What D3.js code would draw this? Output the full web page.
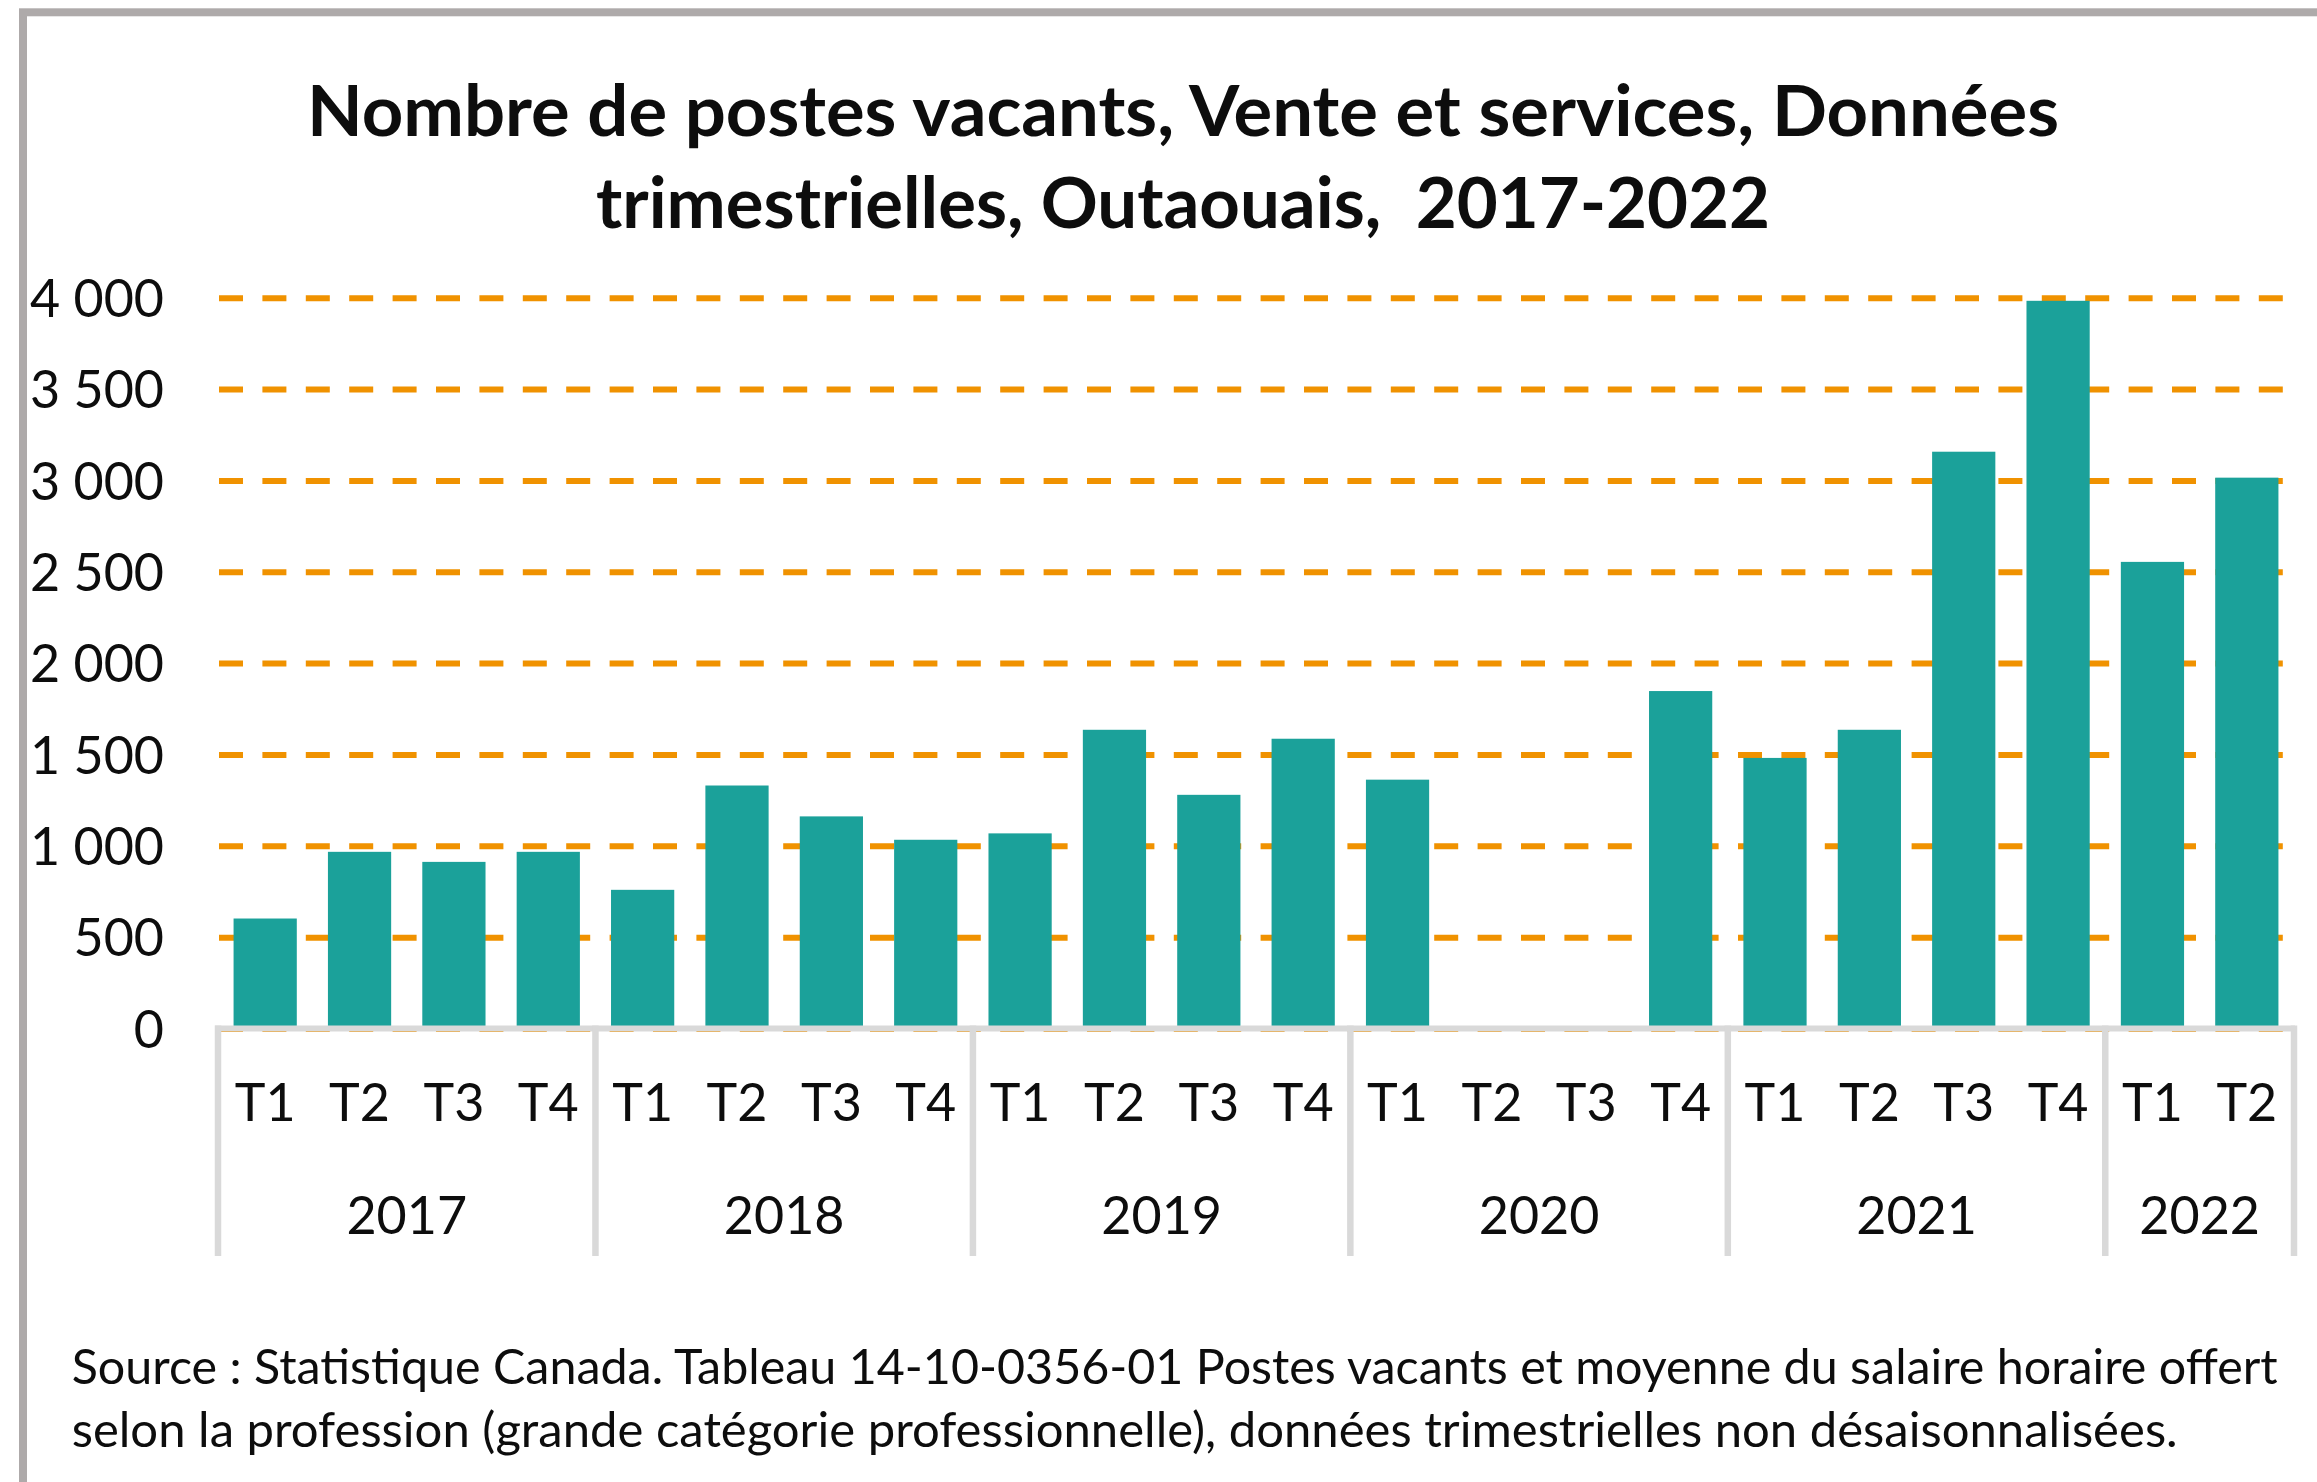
<!DOCTYPE html>
<html>
<head>
<meta charset="utf-8">
<script src="https://cdn.jsdelivr.net/npm/d3@7"></script>
<style>
    body { margin: 0; background: #fff; }
    svg { display: block; }
    text { font-family: Lato, "Noto Sans", sans-serif; fill: #0d0d0d; }
</style>
</head>
<body>
<svg id="chart" width="2317" height="1482"></svg>
<script>
// values (vacancies per quarter, Outaouais)
const years = ["2017", "2018", "2019", "2020", "2021", "2022"]
const quarters = ["T1", "T2", "T3", "T4"]
const values2017 = [602, 967, 912, 967]
const values2018 = [759, 1330, 1161, 1033]
const values2019 = [1068, 1635, 1279, 1586]
const values2020 = [1362, null, null, 1847]
const values2021 = [1481, 1635, 3157, 3983]
const values2022 = [2554, 3015]
const yTicks = [0, 500, 1000, 1500, 2000, 2500, 3000, 3500, 4000]
const titleLines = [
    "Nombre de postes vacants, Vente et services, Données",
    "trimestrielles, Outaouais,  2017-2022"
]
const sourceLines = [
    "Source : Statistique Canada. Tableau 14-10-0356-01 Postes vacants et moyenne du salaire horaire offert",
    "selon la profession (grande catégorie professionnelle), données trimestrielles non désaisonnalisées."
]

const colors = {
    bar: "#1ba19a",
    grid: "#f09200",
    axis: "#d9d9d9",
    border: "#aeaaaa"
}


function buildCategories() {
    let series = [values2017, values2018, values2019, values2020, values2021, values2022],
        categories = []

    series.forEach(function(values, i) {
        values.forEach(function(value, j) {
            categories.push({id: years[i] + "-" + quarters[j], year: years[i], quarter: quarters[j], value: value})
        })
    })

    return categories
}


function draw() {
    let svg = d3.select("#chart"),
        categories = buildCategories(),
        frFormat = d3.formatLocale({decimal: ",", thousands: " ", grouping: [3], currency: ["", " $"]}).format(",")

    let x = d3.scaleBand()
        .domain(categories.map(d => d.id))
        .range([218, 2294])
        .paddingInner(0.33)
        .paddingOuter(0.165)

    let y = d3.scaleLinear()
        .domain([0, 4000])
        .range([1028.5, 297.7])

    let gridLeft = 219,
        gridRight = 2292

    // outer frame
    svg.append("rect")
        .attr("x", 23)
        .attr("y", 12.3)
        .attr("width", 2400)
        .attr("height", 1600)
        .attr("fill", "none")
        .attr("stroke", colors.border)
        .attr("stroke-width", 8)

    // title
    svg.selectAll(".title")
        .data(titleLines)
        .join("text")
        .attr("class", "title")
        .attr("x", 1183)
        .attr("y", (d, i) => 136 + i * 92)
        .attr("text-anchor", "middle")
        .attr("font-size", 71)
        .attr("font-weight", 700)
        .attr("textLength", (d, i) => i === 0 ? 1752 : 1174)
        .attr("lengthAdjust", "spacingAndGlyphs")
        .style("white-space", "pre")
        .text(d => d)

    // y axis with dashed gridlines
    let yAxis = svg.append("g")
        .attr("transform", "translate(" + gridRight + ",0)")
        .call(d3.axisLeft(y)
            .tickValues(yTicks)
            .tickSize(gridRight - gridLeft)
            .tickPadding(55)
            .tickFormat(frFormat))

    yAxis.select(".domain").remove()

    // dashes run left to right, like in the original
    yAxis.selectAll(".tick line")
        .attr("x1", -(gridRight - gridLeft))
        .attr("x2", 0)
        .attr("stroke", colors.grid)
        .attr("stroke-width", 6)
        .attr("stroke-dasharray", "24,19.4")

    yAxis.selectAll(".tick text")
        .attr("dy", "0.36em")
        .attr("font-size", 52)
        .attr("font-family", null)
        .attr("fill", null)

    // bars
    svg.append("g")
        .selectAll("rect")
        .data(categories.filter(d => d.value !== null))
        .join("rect")
        .attr("x", d => x(d.id))
        .attr("width", x.bandwidth())
        .attr("y", d => y(d.value))
        .attr("height", d => y(0) - y(d.value))
        .attr("fill", colors.bar)

    // category axis line
    svg.append("line")
        .attr("x1", x.range()[0] - 3)
        .attr("x2", x.range()[1] + 1)
        .attr("y1", y(0))
        .attr("y2", y(0))
        .attr("stroke", colors.axis)
        .attr("stroke-width", 6)

    // quarter labels
    let xAxis = svg.append("g")
        .attr("transform", "translate(0," + y(0) + ")")
        .call(d3.axisBottom(x)
            .tickSize(0)
            .tickPadding(56)
            .tickFormat(id => categories.find(d => d.id === id).quarter))

    xAxis.select(".domain").remove()

    xAxis.selectAll(".tick text")
        .attr("font-size", 52)
        .attr("font-family", null)
        .attr("fill", null)

    // year groups and separators
    let groups = d3.groups(categories, d => d.year),
        boundaries = [0],
        count = 0

    groups.forEach(function(group) {
        count += group[1].length
        boundaries.push(count)
    })

    svg.append("g")
        .selectAll("line")
        .data(boundaries)
        .join("line")
        .attr("x1", d => x.range()[0] + d * x.step())
        .attr("x2", d => x.range()[0] + d * x.step())
        .attr("y1", y(0) - 3)
        .attr("y2", 1256)
        .attr("stroke", colors.axis)
        .attr("stroke-width", 6.5)

    svg.append("g")
        .selectAll("text")
        .data(groups)
        .join("text")
        .attr("x", function(group) {
            let first = group[1][0].id,
                last = group[1][group[1].length - 1].id

            return (x(first) + x(last) + x.bandwidth()) / 2
        })
        .attr("y", 1234)
        .attr("text-anchor", "middle")
        .attr("font-size", 52)
        .text(group => group[0])

    // source note
    svg.selectAll(".source")
        .data(sourceLines)
        .join("text")
        .attr("class", "source")
        .attr("x", 71.7)
        .attr("y", (d, i) => 1384 + i * 62.7)
        .attr("font-size", 48.5)
        .attr("textLength", (d, i) => i === 0 ? 2206 : 2106)
        .attr("lengthAdjust", "spacingAndGlyphs")
        .text(d => d)
}

draw()
</script>
</body>
</html>
